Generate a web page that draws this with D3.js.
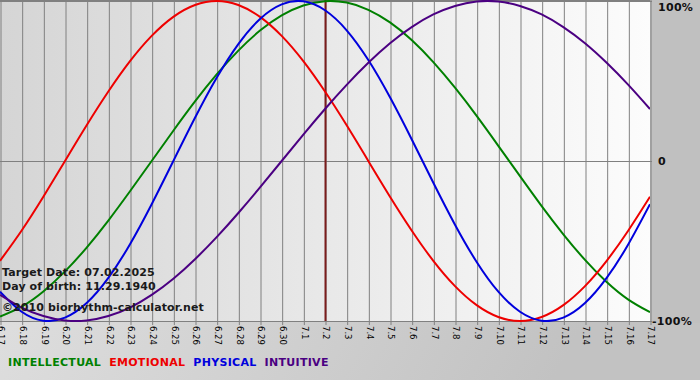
<!DOCTYPE html>
<html><head><meta charset="utf-8">
<script src="https://cdn.jsdelivr.net/npm/d3@7/dist/d3.min.js"></script>
<style>html,body{margin:0;padding:0;background:#fff;overflow:hidden}svg{display:block}</style>
</head><body><svg id="c" width="700" height="380"></svg>
<script>
const days = ["6.17","6.18","6.19","6.20","6.21","6.22","6.23","6.24","6.25","6.26","6.27","6.28","6.29","6.30",
  "7.1","7.2","7.3","7.4","7.5","7.6","7.7","7.8","7.9","7.10","7.11","7.12","7.13","7.14","7.15","7.16","7.17"];
const targetDay = "7.2";
const intellectual = [-0.972,-0.910,-0.815,-0.690,-0.541,-0.372,-0.189,0,0.189,0.372,0.541,0.690,0.815,0.910,0.972,0.999,0.990,0.945,0.866,0.756,0.618,0.458,0.282,0.095,-0.095,-0.282,-0.458,-0.618,-0.756,-0.866,-0.945];
const emotional = [-0.624,-0.434,-0.223,0,0.223,0.434,0.624,0.782,0.901,0.975,1,0.975,0.901,0.782,0.624,0.434,0.223,0,-0.223,-0.434,-0.624,-0.782,-0.901,-0.975,-1,-0.975,-0.901,-0.782,-0.624,-0.434,-0.223];
const physical = [-0.817,-0.942,-0.998,-0.979,-0.888,-0.731,-0.520,-0.270,0,0.270,0.520,0.731,0.888,0.979,0.998,0.942,0.817,0.631,0.398,0.136,-0.136,-0.398,-0.631,-0.817,-0.942,-0.998,-0.979,-0.888,-0.731,-0.520,-0.270];
const intuitive = [-0.837,-0.916,-0.969,-0.997,-0.997,-0.969,-0.916,-0.837,-0.736,-0.614,-0.476,-0.325,-0.165,0,0.165,0.325,0.476,0.614,0.736,0.837,0.916,0.969,0.997,0.997,0.969,0.916,0.837,0.736,0.614,0.476,0.325];
const seriesNames = ["INTELLECTUAL","EMOTIONAL","PHYSICAL","INTUITIVE"];
const yTicks = [1, 0, -1];
const yTickLabels = ["100%", "0", "-100%"];
const infoLines = ["Target Date: 07.02.2025", "Day of birth: 11.29.1940", "\u00A92010 biorhythm-calculator.net"];

const colors = ["#008000", "#ee0000", "#0000dd", "#4b0082"];
const seriesData = [intellectual, emotional, physical, intuitive];

const svg = d3.select("#c");
const W = 700, H = 380;
const plot = {l: 0, r: 650, t: 1, b: 321};
const FONT = "DejaVu Sans, Verdana, sans-serif";

const defs = svg.append("defs");
const g1 = defs.append("linearGradient").attr("id","pg").attr("x1","0").attr("x2","1").attr("y1","0").attr("y2","0");
g1.append("stop").attr("offset","0").attr("stop-color","#d5d5d5");
g1.append("stop").attr("offset","1").attr("stop-color","#fcfcfc");
const g2 = defs.append("linearGradient").attr("id","bg").attr("x1","0").attr("x2","1").attr("y1","0").attr("y2","0.3");
g2.append("stop").attr("offset","0").attr("stop-color","#e6e6e6");
g2.append("stop").attr("offset","1").attr("stop-color","#c2c2c2");
defs.append("clipPath").attr("id","clip").append("rect")
  .attr("x", plot.l).attr("y", 0).attr("width", plot.r - plot.l).attr("height", plot.b + 1);

svg.append("rect").attr("width", W).attr("height", H).attr("fill", "url(#bg)");
svg.append("rect").attr("x", plot.r).attr("y", 0).attr("width", W - plot.r).attr("height", plot.b + 2).attr("fill", "#c0c0c0");
svg.append("rect").attr("x", plot.l).attr("y", 0).attr("width", plot.r - plot.l).attr("height", plot.b).attr("fill", "url(#pg)");

const x = d3.scalePoint().domain(days).range([plot.l, plot.r]);
const y = d3.scaleLinear().domain([-1, 1]).range([plot.b, plot.t]);

// vertical grid + rotated labels
const xAxis = d3.axisBottom(x).tickSize(plot.b + 4).tickPadding(0);
const xg = svg.append("g").call(xAxis);
xg.select(".domain").remove();
xg.selectAll(".tick line").attr("stroke", "#808080").attr("stroke-width", 1)
  .attr("transform", "translate(0.5,0)");
xg.selectAll(".tick text")
  .attr("transform", `translate(0.5,${plot.b + 5}) rotate(90)`)
  .attr("x", 0).attr("y", 0).attr("dy", "0.33em")
  .attr("text-anchor", "start")
  .attr("font-family", FONT).attr("font-size", "8.5px").attr("fill", "#000");

// horizontal lines
svg.append("g").selectAll("line").data(yTicks).join("line")
  .attr("x1", plot.l).attr("x2", plot.r + 2)
  .attr("y1", d => Math.round(y(d)) + 0.5).attr("y2", d => Math.round(y(d)) + 0.5)
  .attr("stroke", "#808080").attr("stroke-width", 1);
svg.append("line").attr("x1", 0).attr("x2", plot.r).attr("y1", 0.5).attr("y2", 0.5).attr("stroke", "#808080");

// target line
svg.append("line").attr("x1", x(targetDay) + 0.5).attr("x2", x(targetDay) + 0.5)
  .attr("y1", 0).attr("y2", plot.b).attr("stroke", "#7a1c1c").attr("stroke-width", 2);

// right labels
svg.append("g").selectAll("text").data(yTicks).join("text")
  .attr("x", (d, i) => yTickLabels[i].startsWith("-") ? plot.r + 2 : plot.r + 8)
  .attr("y", d => Math.min(Math.max(y(d), 7), 322))
  .attr("dy", "0.36em")
  .attr("font-family", FONT).attr("font-weight", "bold").attr("font-size", "11px")
  .attr("letter-spacing", "0.3px")
  .attr("fill", "#111")
  .text((d, i) => yTickLabels[i]);

// curves
const line = d3.line().x((d, i) => x(days[i])).y(d => y(d)).curve(d3.curveNatural);
svg.append("g").attr("clip-path", "url(#clip)").selectAll("path").data(seriesData).join("path")
  .attr("d", line).attr("fill", "none").attr("stroke", (d, i) => colors[i]).attr("stroke-width", 2);

// info text
svg.append("g").selectAll("text").data(infoLines).join("text")
  .attr("x", 2).attr("y", (d, i) => [276, 290, 311][i])
  .attr("font-family", FONT).attr("font-weight", "bold").attr("font-size", "11px")
  .attr("letter-spacing", "0.1px")
  .attr("fill", "#1a1a1a").text(d => d);

// legend
const lg = svg.append("g");
let lx = 8;
seriesNames.forEach((n, i) => {
  const t = lg.append("text").attr("x", lx).attr("y", 366)
    .attr("font-family", FONT).attr("font-weight", "bold").attr("font-size", "11px")
    .attr("letter-spacing", "0.3px")
    .attr("fill", colors[i]).text(n);
  lx += t.node().getComputedTextLength() + 8;
});
</script></body></html>
